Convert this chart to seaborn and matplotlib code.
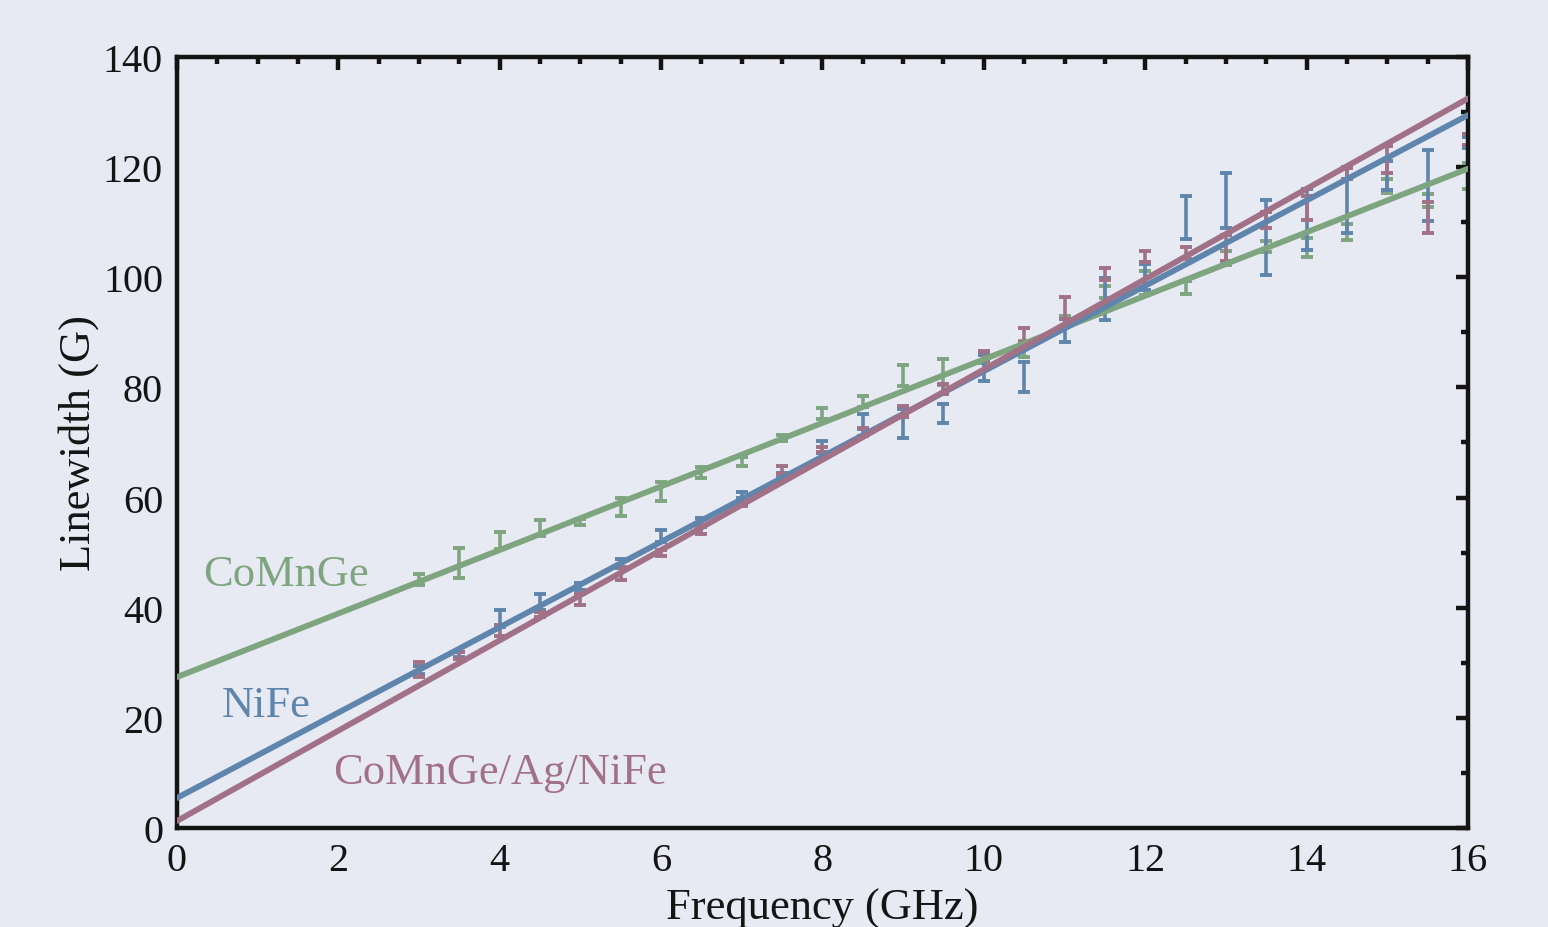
import numpy as np
import pandas as pd
import matplotlib
matplotlib.use("Agg")
import matplotlib.pyplot as plt
from matplotlib.ticker import MultipleLocator
import seaborn as sns

# frequencies of the measured points (GHz)
freq = np.arange(3.0, 16.01, 0.5)

# CoMnGe linewidths and error bars (G)
comnge_lw = [45.1, 48.1, 52.2, 54.5, 55.6, 58.3, 61.1, 64.5, 66.5, 70.8, 75.2, 77.4, 82.1, 82.8,
             85.5, 87.0, 92.0, 97.4, 98.9, 98.2, 103.5, 105.5, 105.4, 108.2, 116.6, 113.9, 118.4]
comnge_err = [1.0, 2.75, 1.5, 1.5, 0.5, 1.65, 1.8, 1.0, 0.85, 0.5, 1.0, 1.0, 1.9, 2.4,
              1.0, 1.5, 0.9, 1.1, 2.2, 1.2, 1.3, 1.0, 1.7, 1.4, 1.3, 1.2, 2.4]

# NiFe
nife_lw = [28.7, 31.5, 38.0, 41.0, 43.8, 48.0, 53.0, 55.5, 60.5, 64.0, 69.2, 73.8, 73.5, 75.2,
           83.5, 81.9, 90.3, 96.0, 100.0, 110.9, 113.9, 107.2, 110.5, 114.0, 118.5, 116.7, 124.5]
nife_err = [0.8, 0.5, 1.5, 1.5, 0.6, 0.8, 1.1, 0.8, 0.6, 0.5, 1.1, 1.4, 2.6, 1.7,
            2.3, 2.8, 2.1, 3.8, 2.4, 3.9, 5.0, 6.8, 5.5, 6.0, 2.6, 6.4, 1.0]

# CoMnGe/Ag/NiFe
tri_lw = [28.8, 31.3, 35.9, 38.8, 41.4, 46.2, 49.9, 54.2, 59.0, 65.0, 68.7, 71.9, 75.7, 79.7,
          85.7, 89.5, 94.4, 100.6, 103.7, 104.4, 105.3, 110.4, 112.6, 118.9, 121.4, 110.8, 125.0]
tri_err = [1.4, 0.6, 1.0, 0.5, 1.0, 1.2, 0.5, 0.8, 0.6, 0.7, 0.5, 0.7, 1.0, 0.9,
           0.9, 1.2, 2.0, 1.1, 1.0, 1.1, 2.3, 1.5, 2.2, 1.0, 2.5, 2.8, 1.0]

# linear fits: intercept (G), slope (G/GHz)
fit_intercept = [27.4, 5.45, 1.27]
fit_slope = [5.77, 7.75, 8.20]

names = ["CoMnGe", "NiFe", "CoMnGe/Ag/NiFe"]
colors = ["#7ea580", "#6085ad", "#a17187"]
label_pos = [(0.33, 46.1), (0.56, 22.3), (1.93, 10.2)]

bg = "#e8eaf3"
sns.set_theme(style="dark", rc={"axes.facecolor": bg, "figure.facecolor": bg})
plt.rcParams["font.family"] = ["Liberation Serif", "DejaVu Serif"]

fig = plt.figure(figsize=(15.48, 9.28), dpi=100)
ax = fig.add_axes([0.1143, 0.1067, 0.8340, 0.8308])

series = [(comnge_lw, comnge_err), (nife_lw, nife_err), (tri_lw, tri_err)]
for (lw, err), c in zip(series, colors):
    ax.errorbar(freq, lw, yerr=err, fmt="none", ecolor=c, elinewidth=2.6,
                capsize=4, capthick=2.8, zorder=2)

fx = np.linspace(0, 16, 50)
fits = pd.concat([pd.DataFrame({"f": fx, "w": b + m * fx, "s": n})
                  for b, m, n in zip(fit_intercept, fit_slope, names)])
sns.lineplot(data=fits, x="f", y="w", hue="s", palette=colors, linewidth=4.2,
             legend=False, ax=ax, zorder=3)

for n, c, (tx, ty) in zip(names, colors, label_pos):
    ax.text(tx, ty, n, color=c, fontsize=32, va="center", ha="left")

ax.set_xlim(0, 16)
ax.set_ylim(0, 140)
ax.xaxis.set_major_locator(MultipleLocator(2))
ax.xaxis.set_minor_locator(MultipleLocator(0.5))
ax.yaxis.set_major_locator(MultipleLocator(20))
ax.yaxis.set_minor_locator(MultipleLocator(10))
ax.tick_params(which="both", direction="in", top=True, right=True, color="#141414",
               labelsize=29, labelcolor="#141414", pad=10)
ax.tick_params(which="major", length=9, width=3.2)
ax.tick_params(which="minor", length=5, width=3.2)
for sp in ax.spines.values():
    sp.set_visible(True)
    sp.set_color("#141414")
    sp.set_linewidth(3.2)

ax.set_xlabel("Frequency (GHz)", fontsize=32, color="#141414", labelpad=6)
ax.set_ylabel("Linewidth (G)", fontsize=32, color="#141414", labelpad=3)

fig.savefig("out.png", dpi=100, facecolor=bg)
